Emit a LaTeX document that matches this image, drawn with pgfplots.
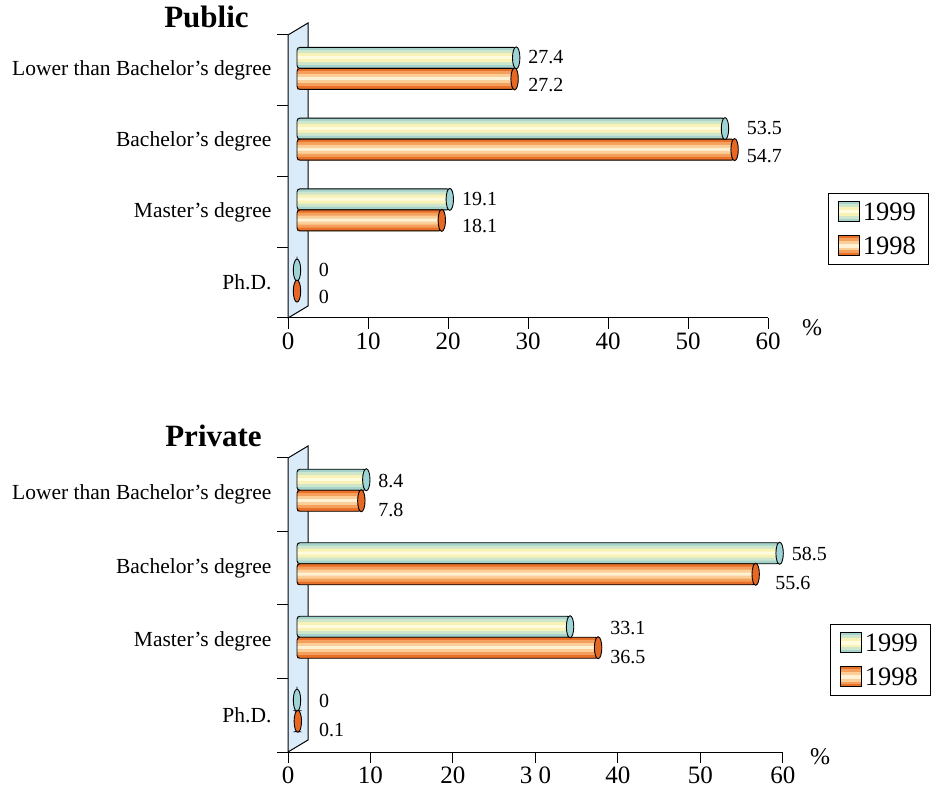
\documentclass[border=0pt]{standalone}
\usepackage{pgfplots}
\pgfplotsset{compat=1.18}
\usepackage{pgfplotstable}
\usepackage{fontspec}
\setmainfont{Liberation Serif}

\definecolor{wallblue}{RGB}{218,236,250}
% 1999 stripes, edge to centre
\definecolor{c99a}{RGB}{166,212,204}
\definecolor{c99b}{RGB}{206,231,204}
\definecolor{c99c}{RGB}{248,242,182}
\definecolor{c99d}{RGB}{255,251,222}
\definecolor{cap99}{RGB}{158,212,214}
% 1998 stripes, edge to centre
\definecolor{c98a}{RGB}{232,112,40}
\definecolor{c98b}{RGB}{244,160,92}
\definecolor{c98c}{RGB}{250,206,150}
\definecolor{c98d}{RGB}{255,241,212}
\definecolor{cap98}{RGB}{230,104,34}

% end face of a cylinder bar
\pgfdeclareplotmark{cap}{%
  \pgfpathellipse{\pgfpointorigin}{\pgfqpoint{3.7bp}{0pt}}{\pgfqpoint{0pt}{11bp}}%
  \pgfusepathqfillstroke}

% cat: 0 = Ph.D., 1 = Master, 2 = Bachelor, 3 = Lower than Bachelor
% l99/l98: where the value labels sit
\pgfplotstableread{
cat v99  v98  l99  l98
0   0    0    1.2  1.2
1   19.1 18.1 19.1 19.1
2   53.5 54.7 54.7 54.7
3   27.4 27.2 27.4 27.4
}\publicdata

\pgfplotstableread{
cat v99  v98  l99  l98
0   0    0.1  1.2  1.2
1   33.1 36.5 36.5 36.5
2   58.5 55.6 58.5 56.5
3   8.4  7.8  8.4  8.4
}\privatedata

% striped legend swatch, centred on the digit height;
% #2 undoes the vertical offset that the bar series carries
\newcommand\swatch[2]{%
  \begin{scope}[sharp corners, xshift=-9bp, yshift={8.5bp-(#2)}]
  \fill[#1a] (0bp,-10bp) rectangle (21bp,10bp);
  \fill[#1b] (0bp,-7bp) rectangle (21bp,7bp);
  \fill[#1c] (0bp,-4.2bp) rectangle (21bp,4.2bp);
  \fill[#1d] (0bp,-1.4bp) rectangle (21bp,1.4bp);
  \draw[black, line width=0.9bp] (0bp,-10bp) rectangle (21bp,10bp);
  \end{scope}}

\pgfplotsset{
  panel/.style={
    scale only axis, clip=false,
    xmin=0, xmax=60, ymin=-0.5, ymax=3.5,
    axis x line=bottom, axis y line=left,
    axis line style={-, line width=1bp, black},
    tick align=outside, major tick length=11bp,
    tick style={black, line width=1bp},
    xtick={0,10,20,30,40,50,60},
    ytick={0,1,2,3},
    yticklabels={Ph.D., Master’s degree, Bachelor’s degree, Lower than Bachelor’s degree},
    ytick style={draw=none},
    extra y ticks={-0.5,0.5,1.5,2.5,3.5},
    extra y tick labels={},
    extra y tick style={ytick style={draw=black}},
    xticklabel style={font=\fontsize{25bp}{28bp}\selectfont},
    yticklabel style={font=\fontsize{21.5bp}{24bp}\selectfont, xshift=-2bp},
    /pgf/number format/assume math mode=true,
    legend style={draw=black, line width=1bp, anchor=north west,
      font=\fontsize{26.5bp}{30bp}\selectfont,
      inner xsep=9bp, inner ysep=7bp, row sep=11bp,
      cells={anchor=base west},
      nodes={inner xsep=3.5bp, inner ysep=2bp}},
  },
  stripe/.style={xbar, bar width=3.3bp, bar shift=0pt, draw=none, xshift=9bp, forget plot},
  outline/.style={xbar, bar width=21bp, bar shift=0pt, draw=black, fill=none,
    line width=0.9bp, rounded corners=3bp, xshift=9bp},
  capmark/.style={only marks, mark=cap, mark options={draw=black, fill=#1, line width=0.9bp},
    xshift=9bp, forget plot},
  vlabel/.style={draw=none, mark=none, forget plot, nodes near coords, point meta=explicit,
    xshift=9bp,
    every node near coord/.append style={anchor=west, xshift=12bp, inner sep=0pt,
      font=\fontsize{20bp}{24bp}\selectfont}},
}

% one series of striped cylinder bars:
% #1 table, #2 value column, #3 vertical offset of the bar centre, #4 colour set
\newcommand\cylinders[4]{%
  \addplot[stripe, fill=#4a, yshift=#3+9bp]  table[x=#2, y=cat] {#1};
  \addplot[stripe, fill=#4b, yshift=#3+6bp]  table[x=#2, y=cat] {#1};
  \addplot[stripe, fill=#4c, yshift=#3+3bp]  table[x=#2, y=cat] {#1};
  \addplot[stripe, fill=#4d, yshift=#3]      table[x=#2, y=cat] {#1};
  \addplot[stripe, fill=#4c, yshift=#3-3bp]  table[x=#2, y=cat] {#1};
  \addplot[stripe, fill=#4b, yshift=#3-6bp]  table[x=#2, y=cat] {#1};
  \addplot[stripe, fill=#4a, yshift=#3-9bp]  table[x=#2, y=cat] {#1};
  \addplot[outline, yshift=#3, legend image code/.code={\swatch{#4}{#3}}] table[x=#2, y=cat] {#1};
}

\begin{document}
\begin{tikzpicture}
\path[use as bounding box] (0,0) rectangle (937bp,792bp);

% ---------- Public ----------
\begin{axis}[panel, width=480bp, height=283bp, at={(288bp,474bp)}, anchor=south west,
  legend style={at={(1.125,0.4417)}}]
  \fill[wallblue, draw=black, line width=1bp] (axis cs:0,-0.5) -- ++(20bp,12bp) -- ++(0bp,283bp) -- ++(-20bp,-12bp) -- cycle;
  \cylinders{\publicdata}{v99}{12.5bp}{c99}
  \cylinders{\publicdata}{v98}{-8.5bp}{c98}
  \addplot[capmark=cap99, yshift=12.5bp] table[x=v99, y=cat] {\publicdata};
  \addplot[capmark=cap98, yshift=-8.5bp] table[x=v98, y=cat] {\publicdata};
  \addplot[vlabel, yshift=13bp] table[x=l99, y=cat, meta=v99] {\publicdata};
  \addplot[vlabel, yshift=-14.5bp] table[x=l98, y=cat, meta=v98] {\publicdata};
  \legend{1999,1998}
\end{axis}
\node[anchor=base, font=\fontsize{31bp}{36bp}\selectfont\bfseries] at (206.5bp,764bp) {Public};
\node[font=\fontsize{24bp}{28bp}\selectfont] at (812bp,464bp) {\%};

% ---------- Private ----------
\begin{axis}[panel, width=495bp, height=294bp, at={(288bp,40bp)}, anchor=south west,
  xticklabels={0,10,20,3 0,40,50,60},
  legend style={at={(1.095,0.435)}}]
  \fill[wallblue, draw=black, line width=1bp] (axis cs:0,-0.5) -- ++(20bp,12bp) -- ++(0bp,294bp) -- ++(-20bp,-12bp) -- cycle;
  \cylinders{\privatedata}{v99}{15bp}{c99}
  \cylinders{\privatedata}{v98}{-6bp}{c98}
  \addplot[capmark=cap99, yshift=15bp] table[x=v99, y=cat] {\privatedata};
  \addplot[capmark=cap98, yshift=-6bp] table[x=v98, y=cat] {\privatedata};
  \addplot[vlabel, yshift=14bp] table[x=l99, y=cat, meta=v99] {\privatedata};
  \addplot[vlabel, yshift=-15bp] table[x=l98, y=cat, meta=v98] {\privatedata};
  \legend{1999,1998}
\end{axis}
\node[anchor=base, font=\fontsize{31bp}{36bp}\selectfont\bfseries] at (213.5bp,345bp) {Private};
\node[font=\fontsize{24bp}{28bp}\selectfont] at (820bp,35bp) {\%};
\end{tikzpicture}
\end{document}
